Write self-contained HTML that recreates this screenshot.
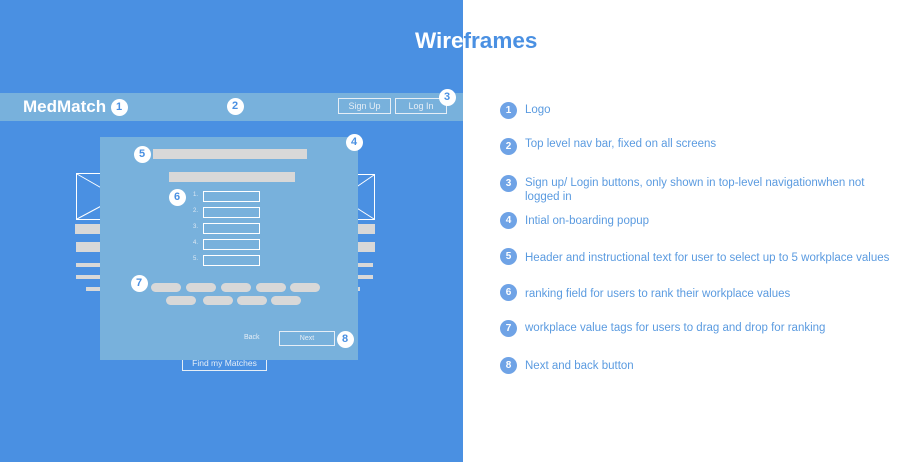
<!DOCTYPE html>
<html><head><style>
body{margin:0;width:900px;height:462px;position:relative;overflow:hidden;background:#fff;font-family:"Liberation Sans",Arial,sans-serif}
.a{position:absolute}
.bd{position:absolute;width:17px;height:17px;border-radius:50%;background:#fff;color:#4a90e2;font-weight:bold;font-size:11px;text-align:center;line-height:17px;margin:-8.5px 0 0 -8.5px}
.rb{position:absolute;width:17px;height:17px;border-radius:50%;background:#6fa3e6;color:#fff;font-weight:bold;font-size:10px;text-align:center;line-height:17px;left:500px}
.rt{position:absolute;left:525px;font-size:11.5px;color:#5b9be0;line-height:14px}
.g{position:absolute;background:#d8d8d8}
.f{position:absolute;border:1.5px solid #fff;box-sizing:border-box;left:203px;width:57px;height:11px}
.n{position:absolute;left:193px;font-size:6px;color:#dfe9f3}
.p{position:absolute;background:#d8d8d8;border-radius:5px;height:9px;width:30px}
</style></head><body>
<div class="a" style="left:0;top:0;width:463px;height:462px;background:#4a90e2"></div>
<div class="a" style="left:415px;top:28px;font-size:22.5px;font-weight:bold;color:#4a90e2">Wireframes</div>
<div class="a" style="left:0;top:0;width:463px;height:80px;overflow:hidden"><div class="a" style="left:415px;top:28px;font-size:22.5px;font-weight:bold;color:#fff;white-space:nowrap">Wireframes</div></div>
<!-- nav -->
<div class="a" style="left:0;top:93px;width:463px;height:28px;background:#78b1dc"></div>
<div class="a" style="left:23px;top:97px;font-size:17px;font-weight:bold;color:#fff">MedMatch</div>
<div class="bd" style="left:119px;top:107px">1</div>
<div class="bd" style="left:235px;top:106px">2</div>
<div class="a" style="left:338px;top:98px;width:53px;height:16px;border:1px solid #e6eef6;box-sizing:border-box;color:#e6eef6;font-size:9px;text-align:center;line-height:14px">Sign Up</div>
<div class="a" style="left:395px;top:98px;width:52px;height:16px;border:1px solid #e6eef6;box-sizing:border-box;color:#e6eef6;font-size:9px;text-align:center;line-height:14px">Log In</div>
<div class="bd" style="left:447px;top:97px">3</div>
<!-- background wireframe -->
<div class="a" style="left:76px;top:173px;width:30px;height:47px;border:1.5px solid #fff;box-sizing:border-box"></div>
<div class="a" style="left:350px;top:174px;width:25px;height:46px;border:1.5px solid #fff;box-sizing:border-box"></div>
<svg class="a" style="left:0;top:0" width="463" height="462"><path d="M77 174L105 190M77 219L105 204M374 175L352 190M374 219L352 205" stroke="#fff" stroke-width="1"/></svg>
<div class="g" style="left:75px;top:224px;width:300px;height:10px"></div>
<div class="g" style="left:76px;top:242px;width:299px;height:10px"></div>
<div class="g" style="left:76px;top:263px;width:297px;height:4px"></div>
<div class="g" style="left:76px;top:275px;width:297px;height:4px"></div>
<div class="g" style="left:86px;top:287px;width:274px;height:4px"></div>
<div class="a" style="left:182px;top:354px;width:85px;height:17px;border:1px solid #e6eef6;box-sizing:border-box;color:#e6eef6;font-size:8.5px;text-align:center;line-height:17px">Find my Matches</div>
<!-- popup -->
<div class="a" style="left:100px;top:137px;width:258px;height:223px;background:#78b1dc"></div>
<div class="bd" style="left:354px;top:142px">4</div>
<div class="bd" style="left:142px;top:154px">5</div>
<div class="g" style="left:153px;top:149px;width:154px;height:10px"></div>
<div class="g" style="left:169px;top:172px;width:126px;height:10px"></div>
<div class="bd" style="left:177px;top:197px">6</div>
<div class="f" style="top:191px"></div><div class="n" style="top:192px">1.</div>
<div class="f" style="top:207px"></div><div class="n" style="top:208px">2.</div>
<div class="f" style="top:223px"></div><div class="n" style="top:224px">3.</div>
<div class="f" style="top:239px"></div><div class="n" style="top:240px">4.</div>
<div class="f" style="top:255px"></div><div class="n" style="top:256px">5.</div>
<div class="bd" style="left:139px;top:283px">7</div>
<div class="p" style="left:151px;top:283px"></div><div class="p" style="left:186px;top:283px"></div><div class="p" style="left:221px;top:283px"></div><div class="p" style="left:256px;top:283px"></div><div class="p" style="left:290px;top:283px"></div>
<div class="p" style="left:166px;top:296px"></div><div class="p" style="left:203px;top:296px"></div><div class="p" style="left:237px;top:296px"></div><div class="p" style="left:271px;top:296px"></div>
<div class="a" style="left:244px;top:334px;font-size:7px;color:#e6eef6">Back</div>
<div class="a" style="left:279px;top:331px;width:56px;height:15px;border:1px solid #e6eef6;box-sizing:border-box;color:#e6eef6;font-size:7px;text-align:center;line-height:13px">Next</div>
<div class="bd" style="left:345px;top:339px">8</div>
<!-- right legend -->
<div class="rb" style="top:102px">1</div><div class="rt" style="top:103px">Logo</div>
<div class="rb" style="top:138px">2</div><div class="rt" style="top:137px">Top level nav bar, fixed on all screens</div>
<div class="rb" style="top:175px">3</div><div class="rt" style="top:176px">Sign up/ Login buttons, only shown in top-level navigationwhen not<br>logged in</div>
<div class="rb" style="top:212px">4</div><div class="rt" style="top:214px">Intial on-boarding popup</div>
<div class="rb" style="top:248px">5</div><div class="rt" style="top:251px">Header and instructional text for user to select up to 5 workplace values</div>
<div class="rb" style="top:284px">6</div><div class="rt" style="top:287px">ranking field for users to rank their workplace values</div>
<div class="rb" style="top:320px">7</div><div class="rt" style="top:321px">workplace value tags for users to drag and drop for ranking</div>
<div class="rb" style="top:357px">8</div><div class="rt" style="top:359px">Next and back button</div>
</body></html>
